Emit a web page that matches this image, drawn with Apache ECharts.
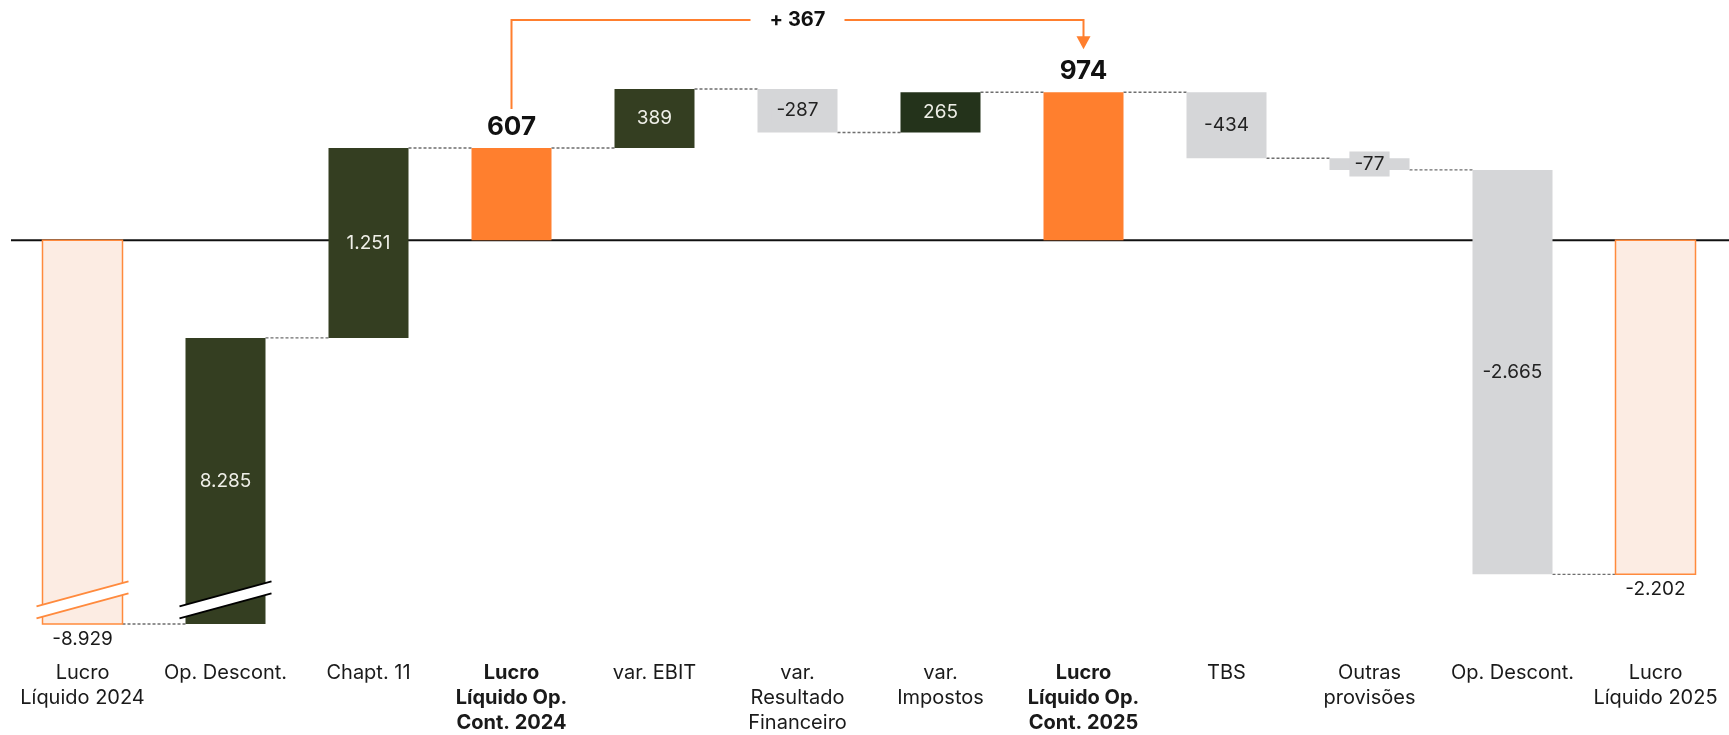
<!DOCTYPE html>
<html>
<head>
<meta charset="utf-8">
<script src="https://cdn.jsdelivr.net/npm/echarts@6/dist/echarts.min.js"></script>
<style>
  html, body { margin: 0; padding: 0; background: #fff; }
  #chart { width: 1729px; height: 735px; }
</style>
</head>
<body>
<div id="chart"></div>
<script>
const categories = ['Lucro\nLíquido 2024', 'Op. Descont.', 'Chapt. 11', 'Lucro\nLíquido Op.\nCont. 2024', 'var. EBIT',
  'var.\nResultado\nFinanceiro', 'var.\nImpostos', 'Lucro\nLíquido Op.\nCont. 2025', 'TBS', 'Outras\nprovisões',
  'Op. Descont.', 'Lucro\nLíquido 2025']
// each bar goes from start to end, value is what the label shows
const barStart = [0, -8929, -644, 0, 607, 996, 709, 0, 974, 540, 463, 0]
const barEnd = [-8929, -644, 607, 607, 996, 709, 974, 974, 540, 463, -2202, -2202]
const barValue = [-8929, 8285, 1251, 607, 389, -287, 265, 974, -434, -77, -2665, -2202]
const barKind = ['total', 'up', 'up', 'sub', 'up', 'down', 'up2', 'sub', 'down', 'down', 'down', 'total']
const boldCategories = [3, 7]
const brokenBars = [0, 1]
const breakMark = -2370
const bridgeFrom = 3
const bridgeTo = 7
const bridgeLevel = 1450
const bridgeLabel = '+ 367'

const FONT = 'Inter, "Noto Sans", sans-serif'
const BAR_W = 80

const fmt = v => (v < 0 ? '-' : '') + String(Math.abs(v)).replace(/\B(?=(\d{3})+(?!\d))/g, '.')

const kindStyle = {
  total: { fill: '#FCECE3', stroke: '#FF8A3D', lineWidth: 1.5, text: '#1a1a1a', pos: 'bottom' },
  up: { fill: '#343E21', text: '#EFEFE8', pos: 'inside' },
  up2: { fill: '#24331B', text: '#EFEFE8', pos: 'inside' },
  sub: { fill: '#FF7F2E', text: '#111', pos: 'top', bold: true },
  down: { fill: '#D5D6D8', text: '#222', pos: 'inside' }
}

const chart = echarts.init(document.getElementById('chart'))

const option = {
  animation: false,
  grid: { left: 11, right: 2, top: 14, bottom: 111, outerBoundsMode: 'none' },
  xAxis: {
    type: 'category',
    data: categories.map((c, i) => boldCategories.includes(i)
      ? { value: c, textStyle: { fontWeight: 'bold' } } : c),
    axisLine: { show: false },
    axisTick: { show: false },
    axisLabel: {
      interval: 0, hideOverlap: false, margin: 36,
      fontSize: 20, lineHeight: 25, color: '#1a1a1a', fontFamily: FONT
    }
  },
  yAxis: {
    type: 'value',
    min: -8929,
    max: 1490,
    breaks: [{ start: -8800, end: -2400, gap: 0 }],
    breakArea: { show: false, itemStyle: { opacity: 0 } },
    axisLine: { show: false },
    axisTick: { show: false },
    axisLabel: { show: false },
    splitLine: { show: false }
  },
  series: [
    {
      // zero line
      type: 'custom', z: 1, silent: true,
      data: [[0, 0]],
      renderItem: (params, api) => {
        const cs = params.coordSys
        const y = api.coord([0, 0])[1]
        return {
          type: 'line',
          shape: { x1: cs.x, y1: y, x2: cs.x + cs.width + 2, y2: y },
          style: { stroke: '#111', lineWidth: 2 }
        }
      }
    },
    {
      // dashed connectors
      type: 'custom', z: 2, silent: true,
      data: barEnd.slice(0, -1).map((v, i) => [i, v]),
      renderItem: (params, api) => {
        const i = api.value(0)
        const a = api.coord([i, api.value(1)])
        const b = api.coord([i + 1, api.value(1)])
        return {
          type: 'line',
          shape: { x1: a[0] + BAR_W / 2, y1: a[1], x2: b[0] - BAR_W / 2, y2: b[1] },
          style: { stroke: '#6e6e6e', lineWidth: 1.4, lineDash: [3, 2] }
        }
      }
    },
    {
      // waterfall bars
      type: 'custom', z: 3, silent: true,
      data: categories.map((c, i) => [i, barStart[i], barEnd[i]]),
      encode: { x: 0, y: [1, 2] },
      renderItem: (params, api) => {
        const i = api.value(0)
        const p0 = api.coord([i, api.value(1)])
        const p1 = api.coord([i, api.value(2)])
        const st = kindStyle[barKind[i]]
        const y = Math.min(p0[1], p1[1])
        const h = Math.abs(p1[1] - p0[1])
        return {
          type: 'rect',
          shape: { x: p0[0] - BAR_W / 2, y: y, width: BAR_W, height: h },
          style: { fill: st.fill, stroke: st.stroke || null, lineWidth: st.lineWidth || 0 },
          textContent: {
            style: {
              text: fmt(barValue[i]),
              fill: st.text,
              fontFamily: FONT,
              fontSize: st.bold ? 26 : 19,
              fontWeight: st.bold ? 'bold' : 'normal',
              backgroundColor: barKind[i] === 'down' ? st.fill : null,
              padding: barKind[i] === 'down' ? [3, 5] : 0
            }
          },
          textConfig: { position: st.pos, distance: st.bold ? 8 : 5 }
        }
      }
    },
    {
      // broken axis marks
      type: 'custom', z: 4, silent: true,
      data: brokenBars.map(i => [i, breakMark]),
      renderItem: (params, api) => {
        const i = api.value(0)
        const c = api.coord([i, api.value(1)])
        const col = barKind[i] === 'total' ? '#FF8A3D' : '#000'
        const hx = BAR_W / 2 + 6, dy = 12.5, g = 6
        return {
          type: 'group',
          children: [
            { type: 'polygon', shape: { points: [[c[0] - hx, c[1] + dy - g], [c[0] + hx, c[1] - dy - g], [c[0] + hx, c[1] - dy + g], [c[0] - hx, c[1] + dy + g]] }, style: { fill: '#fff' } },
            { type: 'line', shape: { x1: c[0] - hx, y1: c[1] + dy - g, x2: c[0] + hx, y2: c[1] - dy - g }, style: { stroke: col, lineWidth: 2 } },
            { type: 'line', shape: { x1: c[0] - hx, y1: c[1] + dy + g, x2: c[0] + hx, y2: c[1] - dy + g }, style: { stroke: col, lineWidth: 2 } }
          ]
        }
      }
    },
    {
      // bridge arrow between the two operating results
      type: 'custom', z: 5, silent: true,
      data: [[bridgeFrom, bridgeTo, bridgeLevel]],
      renderItem: (params, api) => {
        const a = api.coord([api.value(0), barEnd[bridgeFrom]])
        const b = api.coord([api.value(1), barEnd[bridgeTo]])
        const top = api.coord([api.value(0), api.value(2)])[1]
        const mid = (a[0] + b[0]) / 2
        const gap = 47
        const orange = '#FF7F2E'
        const tip = b[1] - 43
        return {
          type: 'group',
          children: [
            { type: 'polyline', shape: { points: [[a[0], a[1] - 39], [a[0], top], [mid - gap, top]] }, style: { stroke: orange, lineWidth: 2, fill: null } },
            { type: 'polyline', shape: { points: [[mid + gap, top], [b[0], top], [b[0], tip - 12]] }, style: { stroke: orange, lineWidth: 2, fill: null } },
            { type: 'polygon', shape: { points: [[b[0] - 7, tip - 13], [b[0] + 7, tip - 13], [b[0], tip]] }, style: { fill: orange } },
            { type: 'text', x: mid, y: top, style: { text: bridgeLabel, fill: '#111', fontFamily: FONT, fontSize: 20, fontWeight: 'bold', align: 'center', verticalAlign: 'middle' } }
          ]
        }
      }
    }
  ]
}

chart.setOption(option)
</script>
</body>
</html>
